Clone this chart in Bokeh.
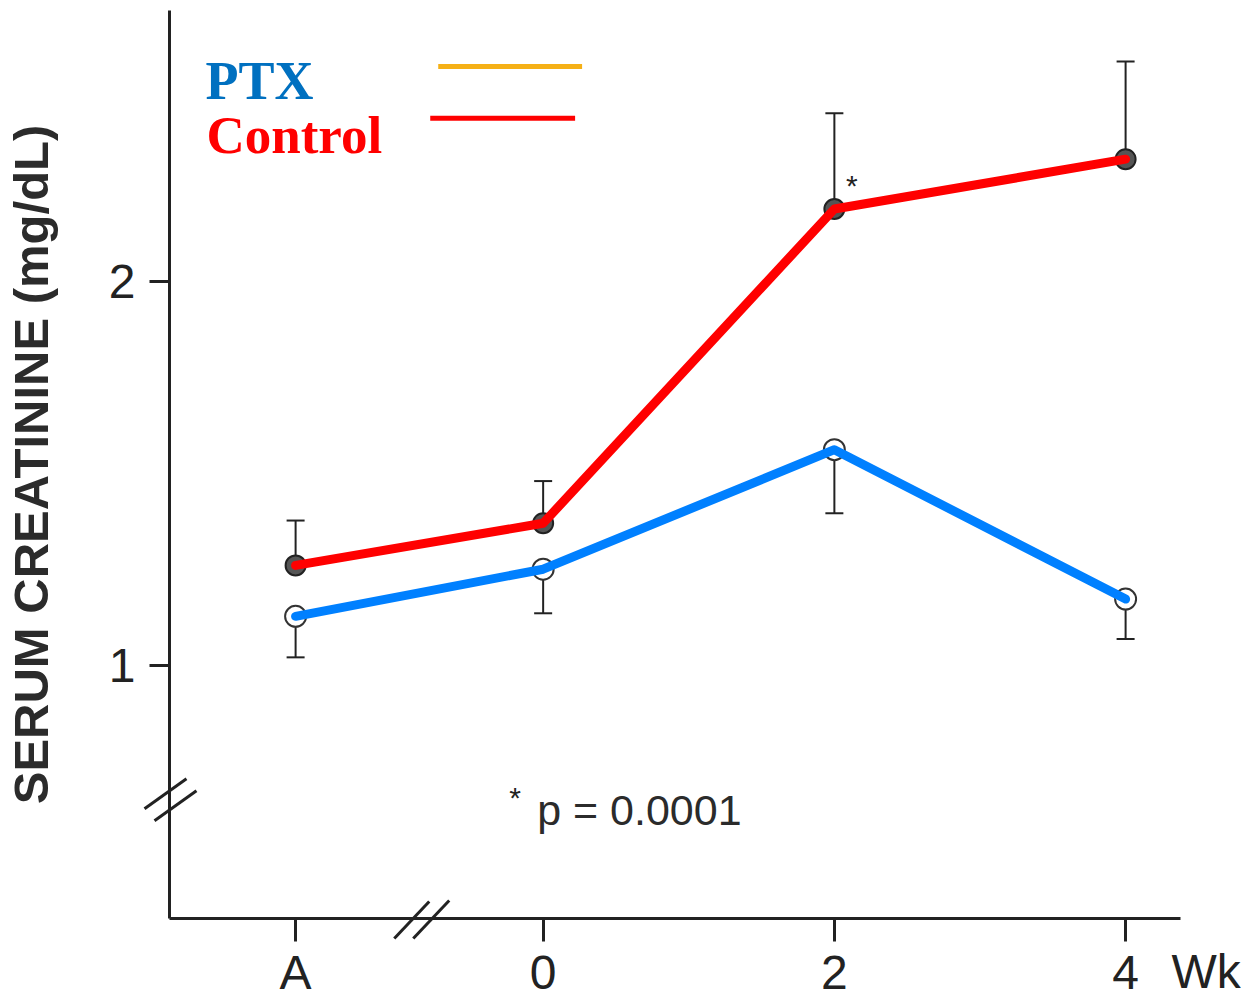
from bokeh.plotting import figure
from bokeh.models import (Range1d, FixedTicker, Label, Arrow, Whisker, TeeHead,
                          ColumnDataSource)
from bokeh.core.properties import value
from bokeh.embed import file_html
from bokeh.resources import INLINE

# ---- data ----
categories = ["A", "0", "2", "4"]
week_pos = [-1.7, 0, 2, 4]
control_mean = [1.26, 1.37, 2.19, 2.32]
control_err = [0.117, 0.11, 0.25, 0.255]
ptx_mean = [1.127, 1.25, 1.562, 1.172]
ptx_err = [0.107, 0.115, 0.166, 0.104]
y_ticks = [1, 2]
series_names = ["PTX", "Control"]

# ---- layout ----
W, H = 1241, 1001
FL, FR, FT, FB = 168, 1180, 10, 920   # frame edges in pixels
X_START, X_END = -2.566, 4.377
Y_START, Y_END = 0.3385, 2.708


def px(xp):
    return X_START + (xp - FL) / (FR - FL) * (X_END - X_START)


def py(yp):
    return Y_END - (yp - FT) / (FB - FT) * (Y_END - Y_START)


RED = "#FF0000"
BLUE = "#0080FF"
PTX_TXT = "#0070C0"
ORANGE = "#F5B016"
INK = "#222222"

p = figure(width=W, height=H, output_backend="svg", toolbar_location=None,
           x_range=Range1d(X_START, X_END), y_range=Range1d(Y_START, Y_END),
           min_border_left=FL, min_border_right=W - FR,
           min_border_top=FT, min_border_bottom=H - FB)
p.outline_line_color = None
p.grid.visible = False
p.background_fill_color = "white"
p.border_fill_color = "white"

# x axis
xa = p.xaxis[0]
xa.ticker = FixedTicker(ticks=week_pos)
xa.major_label_overrides = {w: c for w, c in zip(week_pos, categories)}
xa.minor_tick_line_color = None
xa.major_tick_out = 23
xa.major_tick_in = 0
xa.major_tick_line_width = 3
xa.major_tick_line_color = INK
xa.axis_line_width = 3
xa.axis_line_color = INK
xa.major_label_standoff = 4
xa.major_label_text_font = "Liberation Sans"
xa.major_label_text_font_size = "48px"
xa.major_label_text_color = INK

# y axis
ya = p.yaxis[0]
ya.ticker = FixedTicker(ticks=y_ticks)
ya.minor_tick_line_color = None
ya.major_tick_out = 20
ya.major_tick_in = 0
ya.major_tick_line_width = 3
ya.major_tick_line_color = INK
ya.axis_line_width = 3
ya.axis_line_color = INK
ya.major_label_standoff = 14
ya.major_label_orientation = "horizontal"
ya.major_label_text_font = "Liberation Sans"
ya.major_label_text_font_size = "48px"
ya.major_label_text_color = INK
ya.axis_label = "SERUM CREATININE (mg/dL)"
ya.axis_label_text_font = "Liberation Sans"
ya.axis_label_text_font_style = "bold"
ya.axis_label_text_font_size = "49px"
ya.axis_label_text_color = "#2b2b2b"
ya.axis_label_standoff = 48

# axis break marks (overlay level so they can cross the frame edge)
brk = ColumnDataSource(dict(
    x0=[px(143), px(153), px(393), px(412)],
    y0=[py(810), py(822), py(940), py(940)],
    x1=[px(185), px(195), px(428), px(448)],
    y1=[py(780), py(792), py(903), py(902)]))
p.segment("x0", "y0", "x1", "y1", source=brk, line_width=3,
          line_color=INK, level="overlay")

# error bars
ctrl_src = ColumnDataSource(dict(
    x=week_pos, y=control_mean,
    upper=[m + e for m, e in zip(control_mean, control_err)]))
ptx_src = ColumnDataSource(dict(
    x=week_pos, y=ptx_mean,
    lower=[m - e for m, e in zip(ptx_mean, ptx_err)]))

p.add_layout(Whisker(source=ctrl_src, base="x", upper="upper", lower="y",
                     dimension="height", line_width=2, line_color=INK,
                     upper_head=TeeHead(size=18, line_width=2, line_color=INK),
                     lower_head=None, level="underlay"))
p.add_layout(Whisker(source=ptx_src, base="x", upper="y", lower="lower",
                     dimension="height", line_width=2, line_color=INK,
                     lower_head=TeeHead(size=18, line_width=2, line_color=INK),
                     upper_head=None, level="underlay"))

# markers
p.scatter("x", "y", source=ctrl_src, size=20, marker="circle",
          fill_color="#555555", line_color=INK, line_width=2)
p.scatter("x", "y", source=ptx_src, size=21, marker="circle",
          fill_color="white", line_color="#333333", line_width=2)

# lines
p.line("x", "y", source=ctrl_src, line_color=RED, line_width=9,
       line_join="round", line_cap="round")
p.line("x", "y", source=ptx_src, line_color=BLUE, line_width=9,
       line_join="round", line_cap="round")

# significance star and note
p.add_layout(Label(x=px(851), y=py(202), text="*", text_align="center",
                   text_font="Liberation Sans", text_font_size="30px",
                   text_color=INK))
p.add_layout(Label(x=px(514), y=py(815), text="*", text_align="center",
                   text_font="Liberation Sans", text_font_size="30px",
                   text_color=INK))
p.add_layout(Label(x=px(536), y=py(835), text="p = 0.0001",
                   text_font="Liberation Sans", text_font_size="43px",
                   text_color="#2b2b2b"))

# unit label after last tick (glyph at overlay level, below the frame)
p.text(x=[px(1171)], y=[py(1000)], text=["Wk"], text_baseline="bottom",
       text_font=value("Liberation Sans"), text_font_size="48px",
       text_color=INK, level="overlay")

# legend (text on left, line swatch on right)
p.add_layout(Label(x=px(204), y=py(111), text=series_names[0],
                   text_font="Liberation Serif", text_font_style="bold",
                   text_font_size="54px", text_color=PTX_TXT))
p.add_layout(Label(x=px(205), y=py(164), text=series_names[1],
                   text_font="Liberation Serif", text_font_style="bold",
                   text_font_size="53px", text_color=RED))
p.add_layout(Arrow(end=None, x_start=px(437), y_start=py(66),
                   x_end=px(581), y_end=py(66), line_width=5,
                   line_color=ORANGE))
p.add_layout(Arrow(end=None, x_start=px(429), y_start=py(118),
                   x_end=px(574), y_end=py(118), line_width=5,
                   line_color=RED))

with open("out.html", "w") as f:
    f.write(file_html(p, INLINE))
